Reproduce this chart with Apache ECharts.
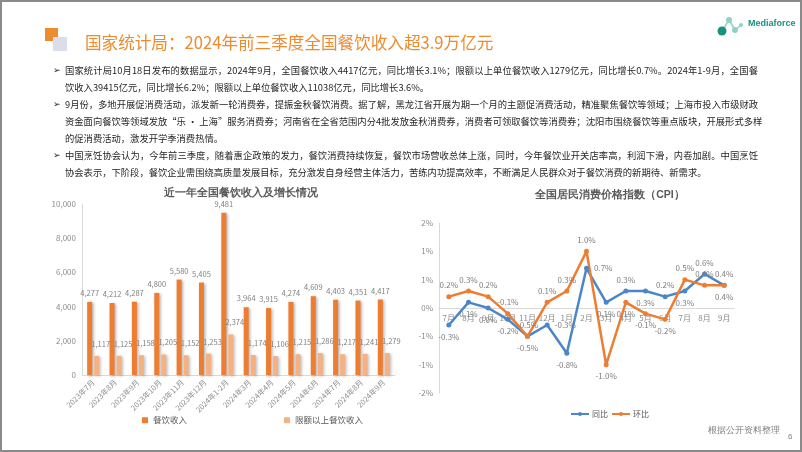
<!DOCTYPE html>
<html><head><meta charset="utf-8">
<script src="https://cdn.jsdelivr.net/npm/echarts@6/dist/echarts.min.js"></script>
<style>
body{margin:0;background:#fff;font-family:"Noto Sans CJK SC","Noto Sans",sans-serif;}
#wrap{position:relative;width:802px;height:452px;overflow:hidden;background:#fff;}
#chart{position:absolute;left:0;top:0;width:802px;height:452px;}
.tx{position:absolute;left:65px;width:693px;font-size:9.3px;color:#262626;white-space:nowrap;line-height:12px;}
.j{text-align:justify;text-align-last:justify;}
.bl{position:absolute;left:53px;font-size:9px;color:#262626;font-family:"DejaVu Sans";line-height:12px;}
#title{position:absolute;left:85px;top:31px;font-size:16.6px;line-height:22px;color:#ED8B2F;white-space:nowrap;}
#frame{position:absolute;left:0;top:0;width:802px;height:452px;box-sizing:border-box;border:2px solid #8a8a8a;pointer-events:none;}
</style></head>
<body><div id="wrap">
<div id="chart"></div>
<div id="title">国家统计局：2024年前三季度全国餐饮收入超3.9万亿元</div>
<div class="bl" style="top:64px">➢</div>
<div class="tx j" style="top:64px">国家统计局10月18日发布的数据显示，2024年9月，全国餐饮收入4417亿元，同比增长3.1%；限额以上单位餐饮收入1279亿元，同比增长0.7%。2024年1-9月，全国餐</div>
<div class="tx" style="top:81px">饮收入39415亿元，同比增长6.2%；限额以上单位餐饮收入11038亿元，同比增长3.6%。</div>
<div class="bl" style="top:98px">➢</div>
<div class="tx j" style="top:98px">9月份，多地开展促消费活动，派发新一轮消费券，提振金秋餐饮消费。据了解，黑龙江省开展为期一个月的主题促消费活动，精准聚焦餐饮等领域；上海市投入市级财政</div>
<div class="tx j" style="top:115px">资金面向餐饮等领域发放“乐 · 上海”服务消费券；河南省在全省范围内分4批发放金秋消费券，消费者可领取餐饮等消费券；沈阳市围绕餐饮等重点版块，开展形式多样</div>
<div class="tx" style="top:132px">的促消费活动，激发开学季消费热情。</div>
<div class="bl" style="top:149px">➢</div>
<div class="tx j" style="top:149px">中国烹饪协会认为，今年前三季度，随着惠企政策的发力，餐饮消费持续恢复，餐饮市场营收总体上涨，同时，今年餐饮业开关店率高，利润下滑，内卷加剧。中国烹饪</div>
<div class="tx" style="top:166px">协会表示，下阶段，餐饮企业需围绕高质量发展目标，充分激发自身经营主体活力，苦练内功提高效率，不断满足人民群众对于餐饮消费的新期待、新需求。</div>
<div id="frame"></div>
</div>
<script>
// ---- data ----
var revCategories = ['2023年7月','2023年8月','2023年9月','2023年10月','2023年11月','2023年12月','2024年1-2月','2024年3月','2024年4月','2024年5月','2024年6月','2024年7月','2024年8月','2024年9月'];
var revTotal = [4277,4212,4287,4800,5580,5405,9481,3964,3915,4274,4609,4403,4351,4417];
var revAbove = [1117,1125,1158,1205,1152,1253,2374,1174,1106,1215,1286,1217,1241,1279];
var cpiMonths = ['7月','8月','9月','10月','11月','12月','1月','2月','3月','4月','5月','6月','7月','8月','9月'];
var cpiYoy = [-0.3,0.1,0.0,-0.2,-0.5,-0.3,-0.8,0.7,0.1,0.3,0.3,0.2,0.3,0.6,0.4];
var cpiMom = [0.2,0.3,0.2,-0.1,-0.5,0.1,0.3,1.0,-1.0,0.1,-0.1,-0.2,0.5,0.4,0.4];
var yTicks1 = [0,10000,2000];
var yTicks2 = [-1.5,1.5,0.5];

// ---- label placement (style) ----
var posYoy = ['bottom','bottom','bottom','bottom','bottom','right','bottom','right','bottom','top','bottom','top','bottom','top','bottom'];
var posMom = ['top','top','top','top','top','top','top','top','bottom','bottom','bottom','bottom','top','top','top'];

function fmtK(v){return String(v).replace(/\B(?=(\d{3})+(?!\d))/g, ',');}
function fmtPct(v){var r=Math.round(Math.abs(v))*(v<0?-1:1); if(r===0) r=0; return r+'%';}

var chart = echarts.init(document.getElementById('chart'), null, {renderer:'canvas'});
var gray = '#8c8c8c';
var grid2 = {left:439, right:68, top:223, bottom:59};
var grid2H = 452 - grid2.top - grid2.bottom;
// zero of yTicks2 lies at the middle of the plot height
var zeroOffset = -grid2H * (0 - yTicks2[0]) / (yTicks2[1] - yTicks2[0]);

chart.setOption({
  animation:false,
  textStyle:{fontFamily:'"Noto Sans CJK SC","Noto Sans",sans-serif'},
  graphic:[
    {type:'rect', shape:{x:45,y:28,width:13,height:13}, style:{fill:'#ED8B2F'}},
    {type:'rect', shape:{x:53,y:37,width:14,height:14}, style:{fill:'#D9DEEA'}},
    {type:'line', shape:{x1:722,y1:31,x2:729,y2:20}, style:{stroke:'#8fd3c6',lineWidth:1.5}},
    {type:'line', shape:{x1:729,y1:20,x2:735,y2:30}, style:{stroke:'#8fd3c6',lineWidth:1.5}},
    {type:'line', shape:{x1:735,y1:30,x2:741,y2:25}, style:{stroke:'#8fd3c6',lineWidth:1.5}},
    {type:'circle', shape:{cx:729,cy:20,r:3}, style:{fill:'#8fd3c6'}},
    {type:'circle', shape:{cx:735,cy:30,r:3}, style:{fill:'#8fd3c6'}},
    {type:'circle', shape:{cx:741,cy:25,r:2}, style:{fill:'#8fd3c6'}},
    {type:'circle', shape:{cx:722,cy:31,r:4.5}, style:{fill:'#19917F'}},
    {type:'text', x:748, y:24, style:{text:'Mediaforce', fontSize:9, fontWeight:'bold', fill:'#19917F', fontFamily:'Liberation Sans', verticalAlign:'middle'}},
    {type:'text', x:241, y:193, style:{text:'近一年全国餐饮收入及增长情况', fontSize:10.5, fontWeight:'bold', fill:'#595959', align:'center', verticalAlign:'middle'}},
    {type:'text', x:610, y:195, style:{text:'全国居民消费价格指数（CPI）', fontSize:10.5, fontWeight:'bold', fill:'#595959', align:'center', verticalAlign:'middle'}},
    {type:'text', x:708, y:431, style:{text:'根据公开资料整理', fontSize:8.5, fill:'#7f7f7f', verticalAlign:'middle'}},
    {type:'text', x:788, y:437, style:{text:'6', fontSize:8, fill:'#7f7f7f', verticalAlign:'middle'}}
  ],
  grid:[
    {left:82, right:407, top:204, bottom:77},
    grid2
  ],
  legend:[
    {data:['餐饮收入','限额以上餐饮收入'], left:137, top:411, itemGap:97, icon:'rect', itemWidth:6, itemHeight:6,
     textStyle:{fontSize:8.5, color:'#595959'}},
    {data:['同比','环比'], left:570, top:410, itemGap:3, itemWidth:18, itemHeight:5, padding:0,
     textStyle:{fontSize:8, color:'#595959', padding:[0,0,0,-2]}}
  ],
  xAxis:[
    {type:'category', gridIndex:0, data:revCategories,
     axisLine:{lineStyle:{color:'#d9d9d9'}}, axisTick:{show:false},
     axisLabel:{rotate:45, interval:0, fontSize:7.5, color:gray, margin:6}},
    {type:'category', gridIndex:1, data:cpiMonths, boundaryGap:true, position:'bottom', offset:zeroOffset,
     axisLine:{onZero:false, lineStyle:{color:'#d9d9d9'}}, axisTick:{show:false},
     axisLabel:{fontSize:8, color:gray, margin:6, interval:0}}
  ],
  yAxis:[
    {type:'value', gridIndex:0, min:yTicks1[0], max:yTicks1[1], interval:yTicks1[2],
     axisLine:{show:true, lineStyle:{color:'#d9d9d9'}}, axisTick:{show:false}, splitLine:{show:false},
     axisLabel:{fontSize:8, color:gray, formatter:fmtK, margin:6}},
    {type:'value', gridIndex:1, min:yTicks2[0], max:yTicks2[1], interval:yTicks2[2],
     axisLine:{show:true, lineStyle:{color:'#d9d9d9'}}, axisTick:{show:false}, splitLine:{show:false},
     axisLabel:{fontSize:8, color:gray, formatter:fmtPct, margin:6}}
  ],
  series:[
    {name:'餐饮收入', type:'bar', xAxisIndex:0, yAxisIndex:0, data:revTotal, barWidth:5, barGap:'40%',
     itemStyle:{color:'#ED7D31', shadowColor:'rgba(0,0,0,0.3)', shadowBlur:3, shadowOffsetX:1.5, shadowOffsetY:1},
     label:{show:true, position:'top', distance:5, formatter:function(p){return fmtK(p.value);}, fontSize:7.5, color:'#7f7f7f'}},
    {name:'限额以上餐饮收入', type:'bar', xAxisIndex:0, yAxisIndex:0, data:revAbove, barWidth:5, barGap:'40%',
     itemStyle:{color:'#F4B183', shadowColor:'rgba(0,0,0,0.25)', shadowBlur:3, shadowOffsetX:1.5, shadowOffsetY:1},
     label:{show:true, position:'top', distance:8, offset:[4,0], formatter:function(p){return fmtK(p.value);}, fontSize:7.5, color:'#7f7f7f'}},
    {name:'同比', type:'line', xAxisIndex:1, yAxisIndex:1, symbol:'circle', symbolSize:5, z:3,
     data:cpiYoy.map(function(v,i){return {value:v, label:{position:posYoy[i]}};}),
     itemStyle:{color:'#4A86C8'}, lineStyle:{width:2.5, color:'#4A86C8'},
     label:{show:true, distance:5, formatter:function(p){return p.value.toFixed(1)+'%';}, fontSize:8, color:'#7f7f7f'}},
    {name:'环比', type:'line', xAxisIndex:1, yAxisIndex:1, symbol:'circle', symbolSize:5, z:3,
     data:cpiMom.map(function(v,i){return {value:v, label:{position:posMom[i]}};}),
     itemStyle:{color:'#ED7D31'}, lineStyle:{width:2.5, color:'#ED7D31'},
     label:{show:true, distance:5, formatter:function(p){return p.value.toFixed(1)+'%';}, fontSize:8, color:'#7f7f7f'}}
  ]
});
</script>
</body></html>
